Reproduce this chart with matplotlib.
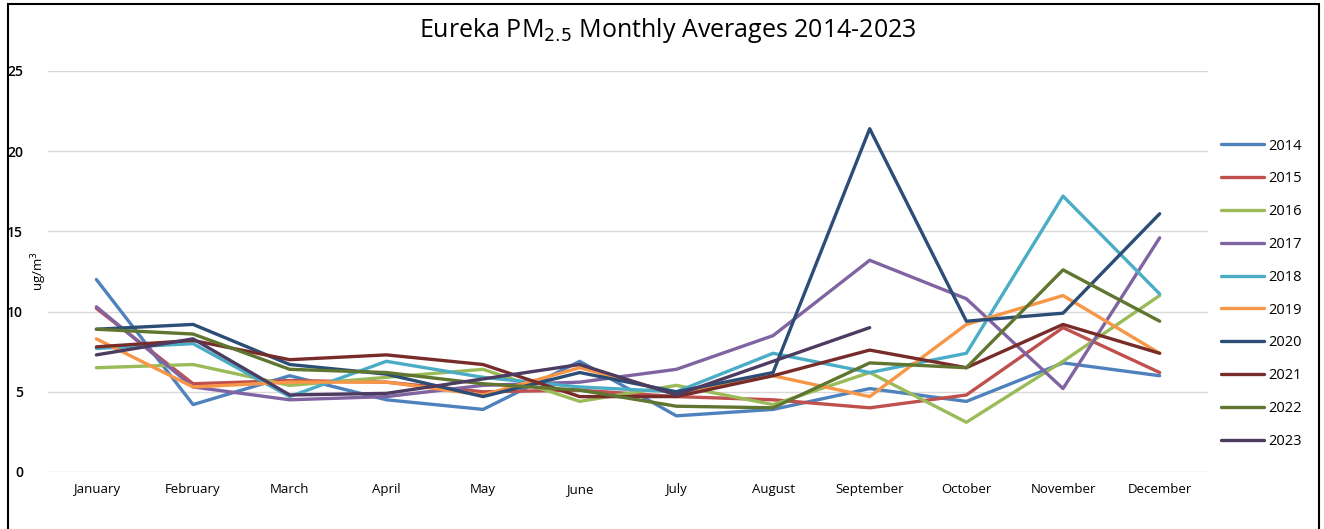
import numpy as np
import matplotlib
matplotlib.use("Agg")
import matplotlib.pyplot as plt
from matplotlib.patches import Rectangle

months = ["January", "February", "March", "April", "May", "June", "July",
          "August", "September", "October", "November", "December"]

y2014 = [12.0, 4.2, 6.0, 4.5, 3.9, 6.9, 3.5, 3.9, 5.2, 4.4, 6.8, 6.0]
y2015 = [10.2, 5.5, 5.7, 5.6, 5.0, 5.1, 4.7, 4.5, 4.0, 4.8, 9.0, 6.2]
y2016 = [6.5, 6.7, 5.4, 5.9, 6.4, 4.4, 5.4, 4.2, 6.2, 3.1, 6.9, 11.0]
y2017 = [10.3, 5.3, 4.5, 4.7, 5.4, 5.6, 6.4, 8.5, 13.2, 10.8, 5.2, 14.6]
y2018 = [7.7, 8.0, 4.7, 6.9, 5.9, 5.3, 5.0, 7.4, 6.2, 7.4, 17.2, 11.1]
y2019 = [8.3, 5.3, 5.6, 5.6, 4.8, 6.5, 4.9, 6.0, 4.7, 9.2, 11.0, 7.4]
y2020 = [8.9, 9.2, 6.7, 6.1, 4.7, 6.2, 5.0, 6.2, 21.4, 9.4, 9.9, 16.1]
y2021 = [7.8, 8.2, 7.0, 7.3, 6.7, 4.7, 4.7, 6.0, 7.6, 6.5, 9.2, 7.4]
y2022 = [8.9, 8.6, 6.4, 6.2, 5.5, 5.1, 4.1, 4.0, 6.8, 6.5, 12.6, 9.4]
y2023 = [7.3, 8.3, 4.8, 4.9, 5.8, 6.7, 4.8, 6.9, 9.0, np.nan, np.nan, np.nan]

series = {
    "2014": (y2014, "#4F81BD"),
    "2015": (y2015, "#C0504D"),
    "2016": (y2016, "#9BBB59"),
    "2017": (y2017, "#8064A2"),
    "2018": (y2018, "#4BACC6"),
    "2019": (y2019, "#F79646"),
    "2020": (y2020, "#2C4D75"),
    "2021": (y2021, "#772C2A"),
    "2022": (y2022, "#5F7530"),
    "2023": (y2023, "#4D3B62"),
}

plt.rcParams["font.family"] = ["Open Sans", "DejaVu Sans"]

fig = plt.figure(figsize=(13.24, 5.29), dpi=100)
ax = fig.add_axes([0.0363, 0.1078, 0.8761, 0.758])

x = np.arange(len(months))
for name, (vals, col) in series.items():
    ax.plot(x, vals, color=col, lw=2.4, label=name, solid_capstyle="round")

ax.set_xlim(-0.5, 11.5)
ax.set_ylim(0, 25)
ax.set_yticks([0, 5, 10, 15, 20, 25])
ax.set_xticks(x)
ax.set_xticklabels(months, fontsize=9.5)
ax.tick_params(axis="both", length=0, colors="#000000")
ax.tick_params(axis="y", labelsize=10, pad=18)
ax.tick_params(axis="x", pad=8)
for lab in ax.get_yticklabels():
    lab.set_fontweight("semibold")
ax.grid(axis="y", color="#D9D9D9", lw=1)
ax.set_axisbelow(True)
for s in ax.spines.values():
    s.set_visible(False)

ax.set_ylabel("ug/m$^3$", fontsize=9.5, labelpad=-30)

fig.text(0.5045, 0.943, "Eureka PM$_{2.5}$ Monthly Averages 2014-2023",
         ha="center", va="center", fontsize=18)

ax.legend(loc="upper left", bbox_to_anchor=(0.922, 0.738),
          bbox_transform=fig.transFigure, frameon=False, fontsize=10.5,
          labelspacing=1.22, handlelength=3.0, handletextpad=0.25,
          borderaxespad=0, borderpad=0)

fig.patches.append(Rectangle((0.006, -0.01), 0.99, 1.003, transform=fig.transFigure,
                             fill=False, edgecolor="black", lw=1.5))

fig.savefig("out.png", dpi=100)
